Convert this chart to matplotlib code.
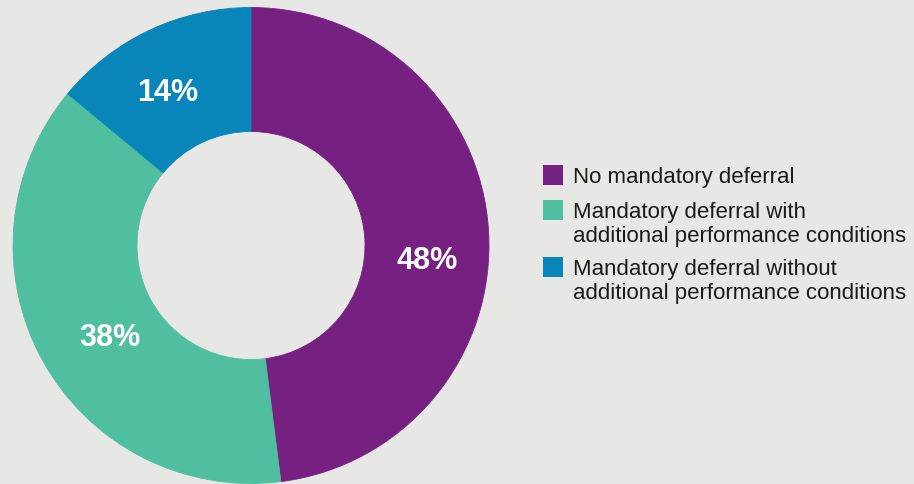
import matplotlib
matplotlib.use("Agg")
import matplotlib.pyplot as plt
from matplotlib.patches import Rectangle

# data
categories = ["No mandatory deferral",
              "Mandatory deferral with\nadditional performance conditions",
              "Mandatory deferral without\nadditional performance conditions"]
shares = [48, 38, 14]
pct_labels = ["48%", "38%", "14%"]
colors = ["#762181", "#4fbfa0", "#0886b9"]

W, H = 914, 485
BG = "#e7e7e5"
plt.rcParams['font.family'] = ['Liberation Sans', 'DejaVu Sans']

fig = plt.figure(figsize=(W / 100, H / 100), dpi=100, facecolor=BG)

# donut: centre (251, 246.5) px, outer radius 238 px, inner 114 px
cx, cy, R, r_in = 251, 246.5, 238, 114
ax = fig.add_axes([(cx - R) / W, (H - cy - R) / H, 2 * R / W, 2 * R / H])
ax.set_facecolor(BG)
wedges, _ = ax.pie(shares, colors=colors, startangle=90, counterclock=False,
                   radius=1, wedgeprops=dict(width=(R - r_in) / R,
                                             linewidth=0.6))
for w, c in zip(wedges, colors):
    w.set_edgecolor(c)
ax.set_xlim(-1, 1)
ax.set_ylim(-1, 1)
ax.set_aspect('equal')
ax.axis('off')

# percentage labels (pixel positions of label centres)
label_px = [(427, 261), (110, 338), (168, 93)]
for txt, (px, py) in zip(pct_labels, label_px):
    ax.text((px - cx) / R, (cy - py) / R, txt, color='white', fontsize=22,
            fontweight='bold', ha='center', va='center')

# legend drawn by hand
sq_x, sq = 543, 20
sq_tops = [166, 201, 258]
line_h = 24
for lab, col, top in zip(categories, colors, sq_tops):
    fig.patches.append(Rectangle((sq_x / W, (H - top - sq) / H), sq / W, sq / H,
                                 transform=fig.transFigure, facecolor=col,
                                 edgecolor='none'))
    for i, line in enumerate(lab.split("\n")):
        base = top + 17 + i * line_h
        fig.text(573 / W, (H - base) / H, line, fontsize=16,
                 color='#1a1a1a', ha='left', va='baseline')

fig.savefig("out.png", dpi=100, facecolor=BG)
